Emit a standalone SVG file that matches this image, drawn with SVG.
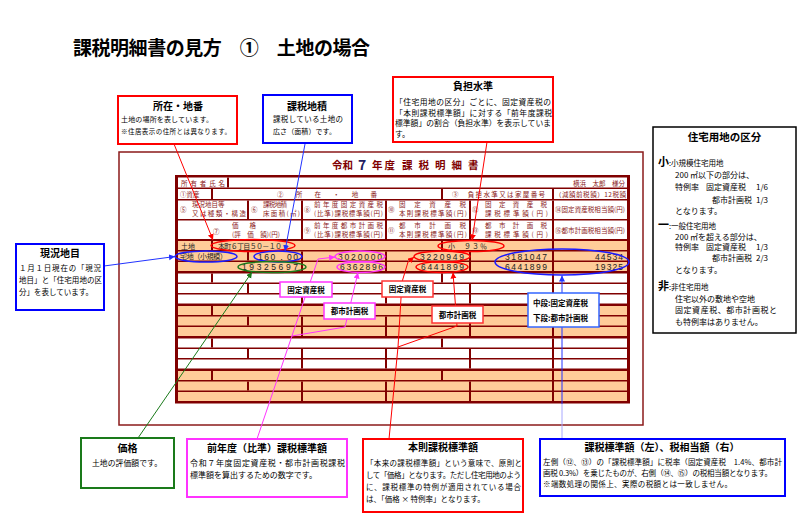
<svg xmlns="http://www.w3.org/2000/svg" width="808" height="531" viewBox="0 0 808 531">
<defs>
<style>
text{font-family:'Noto Sans CJK JP','Noto Sans',sans-serif;fill:#000}
.ti{font-size:10px;font-weight:bold;text-anchor:middle}
.bd{font-size:8px}
.hd{font-size:6.5px;fill:#8B1A1A}
.num{font-family:'Liberation Sans','DejaVu Sans',sans-serif;font-size:8.5px;fill:#222}
.dt{font-size:7px;fill:#222}
.lbl{font-size:7.5px;font-weight:bold;text-anchor:middle}
.bw{fill:#fff}
.bo{fill:#FFCC99}
.cb{fill:#fff;stroke-width:2}
.sb{fill:#fff;stroke-width:1.5}
.el{fill:none;stroke-width:1.5}
.cn{fill:none;stroke-width:1}
</style>
<marker id="ar" markerUnits="userSpaceOnUse" markerWidth="7" markerHeight="7" refX="6" refY="3" orient="auto"><path d="M0,0L6,3L0,6z" fill="#FF0000"/></marker>
<marker id="ab" markerUnits="userSpaceOnUse" markerWidth="7" markerHeight="7" refX="6" refY="3" orient="auto"><path d="M0,0L6,3L0,6z" fill="#2233FF"/></marker>
<marker id="ag" markerUnits="userSpaceOnUse" markerWidth="7" markerHeight="7" refX="6" refY="3" orient="auto"><path d="M0,0L6,3L0,6z" fill="#1A7A1A"/></marker>
<marker id="am" markerUnits="userSpaceOnUse" markerWidth="7" markerHeight="7" refX="6" refY="3" orient="auto"><path d="M0,0L6,3L0,6z" fill="#FF33FF"/></marker>
</defs>
<rect width="808" height="531" fill="#fff"/>

<g id="title">
<text x="73" y="55" font-size="19" font-weight="bold" textLength="297">課税明細書の見方　①　土地の場合</text>
</g>

<g id="form">
<rect x="119" y="152" width="524" height="273" fill="none" stroke="#8B1A1A" stroke-width="1.5"/>
<text x="332" y="169" font-size="10.5" font-weight="bold" style="fill:#800000">令和</text>
<text x="358" y="170" font-size="14" font-weight="bold" style="fill:#1F2060">7</text>
<text x="372" y="169" font-size="10.5" font-weight="bold" letter-spacing="2" style="fill:#800000">年度</text>
<text x="402" y="169" font-size="10.5" font-weight="bold" letter-spacing="6" style="fill:#800000">課税明細書</text>
<rect x="175" y="175" width="455" height="228.5" fill="#800000"/>
<rect class="bw" x="178" y="177.5" width="449" height="10"/>
<rect class="bw" x="178" y="189" width="449" height="10"/>
<rect class="bw" x="178" y="200.5" width="449" height="18.5"/>
<rect class="bw" x="178" y="220.5" width="449" height="18.5"/>
<rect class="bo" x="178" y="241" width="449" height="9"/>
<rect class="bo" x="178" y="251.5" width="449" height="9"/>
<rect class="bo" x="178" y="262" width="449" height="9"/>
<rect class="bw" x="178" y="273.5" width="449" height="9"/>
<rect class="bw" x="178" y="284" width="449" height="9"/>
<rect class="bw" x="178" y="294.5" width="449" height="9"/>
<rect class="bo" x="178" y="306" width="449" height="9"/>
<rect class="bo" x="178" y="316.5" width="449" height="9"/>
<rect class="bo" x="178" y="327" width="449" height="9"/>
<rect class="bw" x="178" y="338.5" width="449" height="9"/>
<rect class="bw" x="178" y="349" width="449" height="9"/>
<rect class="bw" x="178" y="359.5" width="449" height="9"/>
<rect class="bo" x="178" y="371" width="449" height="9"/>
<rect class="bo" x="178" y="381.5" width="449" height="9"/>
<rect class="bo" x="178" y="392" width="449" height="9"/>
<path fill="none" stroke="#800000" stroke-width="2" d="M228 177.5V187.5 M212 189V199 M442 189V199 M553 189V199 M248 200.5V219 M302 200.5V239 M386 200.5V239 M470 200.5V239 M553 200.5V239
M212 241V250 M442 241V250 M553 241V271 M248 251.5V260.5 M302 251.5V271 M386 251.5V271 M470 251.5V271
M212 273.5V282.5 M442 273.5V282.5 M553 273.5V303.5 M248 284V293 M302 284V303.5 M386 284V303.5 M470 284V303.5
M212 306V315 M442 306V315 M553 306V336 M248 316.5V325.5 M302 316.5V336 M386 316.5V336 M470 316.5V336
M212 338.5V347.5 M442 338.5V347.5 M553 338.5V368.5 M248 349V358 M302 349V368.5 M386 349V368.5 M470 349V368.5
M212 371V380 M442 371V380 M553 371V401 M248 381.5V390.5 M302 381.5V401 M386 381.5V401 M470 381.5V401"/>
<text class="hd" x="181" y="185.5" font-size="7" textLength="44">所有者氏名</text>
<text class="hd" x="625" y="185.5" font-size="7.5" text-anchor="end">横浜　太郎　様分</text>
<text class="hd" x="180" y="196.5" font-size="7">①資産</text>
<text class="hd" x="277" y="196.5" font-size="7" textLength="100">②　所　在　・　地　番</text>
<text class="hd" x="452" y="196.5" font-size="7" textLength="93">③　負担水準又は家屋番号</text>
<text class="hd" x="555" y="196.5" textLength="71">（減額前税額）12税額</text>
<text class="hd" x="180" y="212" font-size="8">⑤</text>
<text class="hd" x="192" y="207">現況地目等</text>
<text class="hd" x="192" y="216" textLength="54">又は種類・構造</text>
<text class="hd" x="251" y="212" font-size="8">⑥</text>
<text class="hd" x="263" y="207" textLength="24">課税地積</text>
<text class="hd" x="263" y="216" font-size="6" textLength="37">床面積(㎡)</text>
<text class="hd" x="304" y="212" font-size="8">⑧</text>
<text class="hd" x="314" y="207" textLength="69">前年度固定資産税</text>
<text class="hd" x="314" y="216" textLength="69">(比準)課税標準額(円)</text>
<text class="hd" x="388" y="212" font-size="8">⑩</text>
<text class="hd" x="399" y="207" textLength="67">固定資産税</text>
<text class="hd" x="399" y="216" textLength="68">本則課税標準額(円)</text>
<text class="hd" x="472" y="212" font-size="8">⑫</text>
<text class="hd" x="485" y="207" textLength="62">固定資産税</text>
<text class="hd" x="485" y="216" textLength="63">課税標準額(円)</text>
<text class="hd" x="555" y="212" textLength="70">⑭固定資産税相当額(円)</text>
<text class="hd" x="213" y="234" font-size="8">⑦</text>
<text class="hd" x="232" y="228" textLength="24">価格</text>
<text class="hd" x="232" y="237" textLength="48">(評　価　額)(円)</text>
<text class="hd" x="304" y="233" font-size="8">⑨</text>
<text class="hd" x="314" y="228" textLength="69">前年度都市計画税</text>
<text class="hd" x="314" y="237" textLength="69">(比準)課税標準額(円)</text>
<text class="hd" x="388" y="233" font-size="8">⑪</text>
<text class="hd" x="399" y="228" textLength="67">都市計画税</text>
<text class="hd" x="399" y="237" textLength="68">本則課税標準額(円)</text>
<text class="hd" x="472" y="233" font-size="8">⑬</text>
<text class="hd" x="485" y="228" textLength="62">都市計画税</text>
<text class="hd" x="485" y="237" textLength="63">課税標準額(円)</text>
<text class="hd" x="555" y="233" textLength="70">⑮都市計画税相当額(円)</text>
<text class="dt" x="181" y="248.5" font-size="7.5">土地</text>
<text class="dt" x="218" y="248.5" font-size="6.5" textLength="64">本町６丁目５０－１０</text>
<text class="dt" x="448" y="248.5" font-size="7.5" textLength="39">小　９３％</text>
<text class="dt" x="180" y="259" font-size="6.5" textLength="47">宅地（小規模）</text>
<text class="num" x="258" y="259.5" textLength="40">160．00</text>
<text class="num" x="338" y="259.5" textLength="44">3020000</text>
<text class="num" x="420" y="259.5" textLength="44">3220949</text>
<text class="num" x="505" y="259.5" textLength="42">3181047</text>
<text class="num" x="595" y="259.5" textLength="28">44534</text>
<text class="num" x="242" y="270" textLength="56">19325697</text>
<text class="num" x="340" y="270" textLength="43">6362896</text>
<text class="num" x="421" y="270" textLength="43">6441899</text>
<text class="num" x="505" y="270" textLength="42">6441899</text>
<text class="num" x="595" y="270" textLength="28">19325</text>
</g>

<g id="highlights">
<ellipse class="el" stroke="#FF0000" cx="253" cy="245.5" rx="42" ry="6"/>
<ellipse class="el" stroke="#FF0000" cx="471" cy="246" rx="33" ry="5.5"/>
<ellipse class="el" stroke="#1A1AFF" cx="206" cy="256.5" rx="31" ry="5.5"/>
<ellipse class="el" stroke="#1A1AFF" cx="278" cy="256.5" rx="24" ry="5.5"/>
<ellipse class="el" stroke="#FF33FF" cx="360" cy="256.5" rx="25" ry="5.5"/>
<ellipse class="el" stroke="#FF0000" cx="442" cy="256.5" rx="28" ry="5.5"/>
<ellipse class="el" stroke="#1A7A1A" cx="272" cy="267" rx="34" ry="5.5"/>
<ellipse class="el" stroke="#FF33FF" cx="361" cy="267" rx="24" ry="5.5"/>
<ellipse class="el" stroke="#FF0000" cx="442" cy="267" rx="26" ry="5.5"/>
<ellipse class="el" stroke="#1A1AFF" cx="562" cy="262" rx="67" ry="13"/>
</g>

<g id="connectors">
<polyline class="cn" stroke="#FF0000" points="174,144 213,240" marker-end="url(#ar)"/>
<polyline class="cn" stroke="#2233FF" points="305,144 285,251" marker-end="url(#ab)"/>
<polyline class="cn" stroke="#FF0000" points="487,142 472,240.5" marker-end="url(#ar)"/>
<polyline class="cn" stroke="#2233FF" points="104,266 175,256.5" marker-end="url(#ab)"/>
<polyline class="cn" stroke="#1A7A1A" points="138,438 252,272" marker-end="url(#ag)"/>
<polyline class="cn" stroke="#FF33FF" points="257,439 318,259 335,257" marker-end="url(#am)"/>
<polyline class="cn" stroke="#FF33FF" points="292,336 345,327 358,272.5" marker-end="url(#am)"/>
<polyline class="cn" stroke="#FF0000" points="389,439 398,347 402,282 408,262 414,257" marker-end="url(#ar)"/>
<polyline class="cn" stroke="#FF0000" points="398,347 457,326 453,272.5" marker-end="url(#ar)"/>
<line class="cn" stroke="#A8A8FF" x1="562" y1="439" x2="562" y2="404"/>
<polyline class="cn" stroke="#2233FF" points="562,404 562,275.5" marker-end="url(#ab)"/>
</g>

<g id="lbl-kotei-m"><rect class="sb" stroke="#FF33FF" x="280" y="282" width="52" height="15"/><text class="lbl" x="306" y="292.5">固定資産税</text></g>
<g id="lbl-toshi-m"><rect class="sb" stroke="#FF33FF" x="324" y="303" width="51" height="16"/><text class="lbl" x="349.5" y="314">都市計画税</text></g>
<g id="lbl-kotei-r"><rect class="sb" stroke="#FF3333" x="382" y="281" width="51" height="16"/><text class="lbl" x="407.5" y="292">固定資産税</text></g>
<g id="lbl-toshi-r"><rect class="sb" stroke="#FF3333" x="432" y="306" width="51" height="17"/><text class="lbl" x="457.5" y="317.5">都市計画税</text></g>
<g id="lbl-dan"><rect class="sb" stroke="#3366FF" x="528" y="293" width="71" height="34"/><text class="lbl" x="533" y="306" style="text-anchor:start">中段:固定資産税</text><text class="lbl" x="533" y="321" style="text-anchor:start">下段:都市計画税</text></g>

<g id="callout-shozai">
<rect class="cb" stroke="#FF0000" x="118" y="96" width="119" height="48"/>
<text class="ti" x="178" y="110">所在・地番</text>
<text x="121" y="122" font-size="7" textLength="92">土地の場所を表しています。</text>
<text x="121" y="134" font-size="6.5" textLength="110">※住居表示の住所とは異なります。</text>
</g>

<g id="callout-chiseki">
<rect class="cb" stroke="#0000FF" x="263" y="95" width="89" height="48"/>
<text class="ti" x="307" y="110">課税地積</text>
<text x="273" y="122" font-size="7.5" textLength="70">課税している土地の</text>
<text x="273" y="134" font-size="7" textLength="63">広さ（面積）です。</text>
</g>

<g id="callout-futan">
<rect class="cb" stroke="#FF0000" x="393" y="77" width="160" height="65"/>
<text class="ti" x="473" y="90">負担水準</text>
<text x="395" y="105" font-size="7.8" textLength="156">「住宅用地の区分」ごとに、固定資産税の</text>
<text x="395" y="115.5" font-size="7.8" textLength="157">「本則課税標準額」に対する「前年度課税</text>
<text x="395" y="126" font-size="7.8" textLength="156">標準額」の割合（負担水準）を表示していま</text>
<text x="395" y="136.5" font-size="7.8">す。</text>
</g>

<g id="info-kubun">
<rect fill="#fff" stroke="#000" stroke-width="1.5" x="653" y="127" width="143" height="206"/>
<text x="724.5" y="141" font-size="10.5" font-weight="bold" text-anchor="middle">住宅用地の区分</text>
<text x="658" y="166" font-size="11" font-weight="bold">小</text>
<text x="669" y="166" font-size="7.5">:小規模住宅用地</text>
<text class="bd" x="675" y="178">200 ㎡以下の部分は、</text>
<text class="bd" x="675" y="190">特例率</text><text class="bd" x="706" y="190">固定資産税</text><text class="bd" x="756" y="190">1/6</text>
<text class="bd" x="712" y="203">都市計画税</text><text class="bd" x="756" y="203">1/3</text>
<text class="bd" x="675" y="214">となります。</text>
<text x="658" y="229" font-size="11" font-weight="bold">一</text>
<text x="669" y="229" font-size="7.5">:一般住宅用地</text>
<text class="bd" x="675" y="240">200 ㎡を超える部分は、</text>
<text class="bd" x="675" y="250">特例率</text><text class="bd" x="706" y="250">固定資産税</text><text class="bd" x="756" y="250">1/3</text>
<text class="bd" x="712" y="261">都市計画税</text><text class="bd" x="756" y="261">2/3</text>
<text class="bd" x="675" y="273">となります。</text>
<text x="658" y="290" font-size="11" font-weight="bold">非</text>
<text x="669" y="290" font-size="7.5">:非住宅用地</text>
<text class="bd" x="675" y="302">住宅以外の敷地や空地</text>
<text class="bd" x="675" y="313" textLength="102">固定資産税、都市計画税と</text>
<text class="bd" x="675" y="325">も特例率はありません。</text>
</g>

<g id="callout-genkyo">
<rect class="cb" stroke="#0000FF" x="16" y="244" width="88" height="66"/>
<text class="ti" x="60" y="257">現況地目</text>
<text x="19" y="271" font-size="7.5" textLength="82">１月１日現在の「現況</text>
<text x="19" y="283" font-size="7.5" textLength="83">地目」と「住宅用地の区</text>
<text x="19" y="295" font-size="7.5">分」を表しています。</text>
</g>

<g id="callout-kakaku">
<rect class="cb" stroke="#1A7A1A" x="81" y="438" width="93" height="50"/>
<text class="ti" x="127.5" y="452">価格</text>
<text x="92" y="466" font-size="7.8" textLength="70">土地の評価額です。</text>
</g>

<g id="callout-zennendo">
<rect class="cb" stroke="#FF33FF" x="187" y="439" width="160" height="58"/>
<text class="ti" x="267" y="452" font-size="9.5">前年度（比準）課税標準額</text>
<text x="190" y="466" font-size="8" textLength="155">令和７年度固定資産税・都市計画税課税</text>
<text x="190" y="478" font-size="8" textLength="127">標準額を算出するための数字です。</text>
</g>

<g id="callout-honsoku">
<rect class="cb" stroke="#FF0000" x="363" y="439" width="160" height="73"/>
<text class="ti" x="443" y="451">本則課税標準額</text>
<text x="366" y="466" font-size="7.5" textLength="156">「本来の課税標準額」という意味で、原則と</text>
<text x="366" y="478" font-size="7.5" textLength="155">して「価格」となります。ただし住宅用地のよう</text>
<text x="366" y="490" font-size="7.5" textLength="155">に、課税標準の特例が適用されている場合</text>
<text x="366" y="502" font-size="7.5">は、「価格 × 特例率」となります。</text>
</g>

<g id="callout-kazei">
<rect class="cb" stroke="#0000FF" x="540" y="439" width="245" height="57"/>
<text class="ti" x="662" y="451" font-size="9">課税標準額（左）、税相当額（右）</text>
<text x="543" y="465" font-size="7.5" textLength="239">左側（⑫、⑬）の「課税標準額」に税率（固定資産税　1.4%、都市計</text>
<text x="543" y="476" font-size="7.5" textLength="229">画税 0.3%）を乗じたものが、右側（⑭、⑮）の税相当額となります。</text>
<text x="543" y="487" font-size="7.5" textLength="189">※端数処理の関係上、実際の税額とは一致しません。</text>
</g>
</svg>
